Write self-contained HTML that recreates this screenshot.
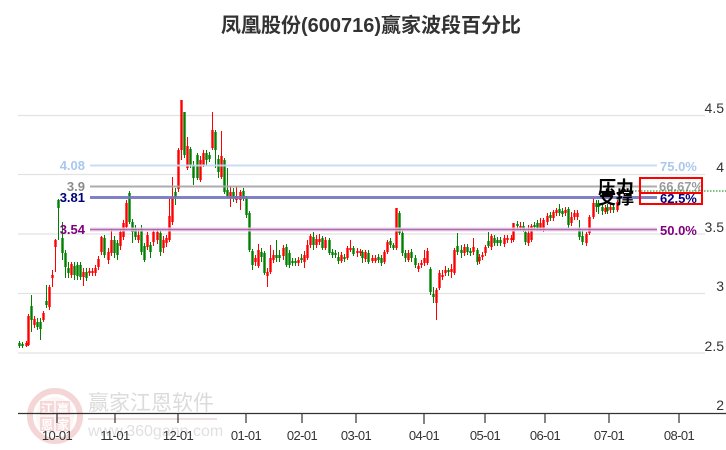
<!DOCTYPE html>
<html><head><meta charset="utf-8">
<style>
html,body{margin:0;padding:0;background:#fff;}
body{width:726px;height:450px;overflow:hidden;position:relative;font-family:"Liberation Sans","Noto Sans CJK SC",sans-serif;}
svg{position:absolute;left:0;top:0;}
</style></head><body>
<svg id="c" width="726" height="450" viewBox="0 0 726 450" xmlns="http://www.w3.org/2000/svg">
<!-- watermark -->
<g opacity="0.75">
  <circle cx="55" cy="416" r="25" fill="none" stroke="#f2c9c9" stroke-width="6"/>
  <circle cx="55" cy="416" r="19" fill="#fdf1f1" stroke="none"/>
  <rect x="40" y="401" width="14" height="14" fill="#f4caca"/>
  <rect x="56" y="401" width="14" height="14" fill="#f4caca"/>
  <rect x="40" y="417" width="14" height="14" fill="#f4caca"/>
  <rect x="56" y="417" width="14" height="14" fill="#f4caca"/>
  <g font-family="'Noto Sans CJK SC',sans-serif" font-size="12" font-weight="bold" fill="#fff" text-anchor="middle">
    <text x="47" y="413">江</text><text x="63" y="413">赢</text>
    <text x="47" y="429">恩</text><text x="63" y="429">家</text>
  </g>
  <text x="88" y="410" font-family="'Noto Sans CJK SC',sans-serif" font-size="21" fill="#cfcfcf">赢家江恩软件</text>
  <line x1="88" y1="419" x2="217" y2="419" stroke="#ecd2d2" stroke-width="2"/>
  <text x="88" y="436" font-family="'Liberation Sans',sans-serif" font-size="16" fill="#d6d6d6">www.360gann.com</text>
</g>

<!-- title -->
<text x="371" y="32" text-anchor="middle" font-size="20" font-weight="bold" fill="#333" font-family="'Liberation Sans','Noto Sans CJK SC',sans-serif">凤凰股份(600716)赢家波段百分比</text>

<!-- gridlines -->
<g stroke="#e2e2e2" stroke-width="1.2">
  <line x1="18" y1="115.5" x2="705" y2="115.5"/>
  <line x1="18" y1="174.5" x2="705" y2="174.5"/>
  <line x1="18" y1="234" x2="705" y2="234"/>
  <line x1="18" y1="293.5" x2="705" y2="293.5"/>
  <line x1="18" y1="353" x2="705" y2="353"/>
</g>

<!-- right axis labels -->
<g font-size="14" fill="#333" text-anchor="end" font-family="'Liberation Sans',sans-serif">
  <text x="724" y="113">4.5</text>
  <text x="724" y="172">4</text>
  <text x="724" y="232">3.5</text>
  <text x="724" y="291">3</text>
  <text x="724" y="351">2.5</text>
  <text x="724" y="410">2</text>
</g>

<!-- candles -->
<g id="k"></g>

<!-- level lines -->
<g opacity="0.9">
  <line x1="90" y1="165.5" x2="657" y2="165.5" stroke="#c4daf4" stroke-width="2"/>
  <line x1="90" y1="186.5" x2="657" y2="186.5" stroke="#a4a4a4" stroke-width="2"/>
  <line x1="90" y1="229.5" x2="657" y2="229.5" stroke="#ecd0ec" stroke-width="4"/>
  <line x1="90" y1="229.5" x2="657" y2="229.5" stroke="#a45ea4" stroke-width="1.6"/>
  <line x1="90" y1="197.5" x2="657" y2="197.5" stroke="#7474bf" stroke-width="3"/>
</g>

<!-- left level labels -->
<g font-size="13" font-weight="bold" text-anchor="end" font-family="'Liberation Sans',sans-serif">
  <text x="85" y="170" fill="#a9c8ee">4.08</text>
  <text x="85" y="191" fill="#8a8a8a">3.9</text>
  <text x="85" y="202" fill="#00007a">3.81</text>
  <text x="85" y="234" fill="#800080">3.54</text>
</g>

<!-- right level labels -->
<g font-size="13" font-weight="bold" font-family="'Liberation Sans',sans-serif">
  <text x="660" y="171" fill="#a9c8ee">75.0%</text>
  <text x="659" y="191" fill="#9a9a9a">66.67%</text>
  <text x="660" y="203" fill="#00007a">62.5%</text>
  <text x="660" y="235" fill="#800080">50.0%</text>
</g>

<!-- green dotted current line -->
<line x1="620" y1="191" x2="726" y2="191" stroke="#008000" stroke-width="1" stroke-dasharray="1.5,1.5"/>

<!-- red boxes -->
<rect x="640" y="178" width="62" height="15" fill="none" stroke="#f00" stroke-width="2"/>
<rect x="640" y="193" width="62" height="11" fill="none" stroke="#f00" stroke-width="2"/>

<!-- 压力 支撑 -->
<g font-family="'Noto Sans CJK SC',sans-serif" font-size="18" font-weight="bold" fill="#000">
  <text x="598" y="194">压力</text>
  <text x="598" y="204">支撑</text>
</g>

<!-- x axis -->
<line x1="18" y1="413.5" x2="726" y2="413.5" stroke="#333" stroke-width="1.3"/>
<g stroke="#333" stroke-width="1.2">
  <line x1="57" y1="413" x2="57" y2="423"/>
  <line x1="115" y1="413" x2="115" y2="423"/>
  <line x1="178" y1="413" x2="178" y2="423"/>
  <line x1="246" y1="413" x2="246" y2="423"/>
  <line x1="302" y1="413" x2="302" y2="423"/>
  <line x1="356" y1="413" x2="356" y2="423"/>
  <line x1="424" y1="413" x2="424" y2="424"/>
  <line x1="485" y1="413" x2="485" y2="423"/>
  <line x1="545" y1="413" x2="545" y2="423"/>
  <line x1="609" y1="413" x2="609" y2="423"/>
  <line x1="679" y1="413" x2="679" y2="423"/>
</g>
<g font-size="13" fill="#333" text-anchor="middle" letter-spacing="-0.6" font-family="'Liberation Sans',sans-serif">
  <text x="57" y="440">10-01</text>
  <text x="115" y="440">11-01</text>
  <text x="178" y="440">12-01</text>
  <text x="246" y="440">01-01</text>
  <text x="302" y="440">02-01</text>
  <text x="356" y="440">03-01</text>
  <text x="424" y="440">04-01</text>
  <text x="485" y="440">05-01</text>
  <text x="545" y="440">06-01</text>
  <text x="609" y="440">07-01</text>
  <text x="679" y="440">08-01</text>
</g>
</svg>
<script>
var d=[
[19,343,346,341,348,0],[22,344,346,342,348,0],[26,343,346,341,347,1],[28,316,345,314,346,1],
[31,306,320,295,332,0],[34,319,325,316,328,1],[37,322,327,318,330,0],[40,322,329,318,340,0],
[43,313,320,311,322,1],[46,301,305,285,308,0],[49,287,307,285,310,1],[52,275,278,270,287,1],
[55,240,247,239,272,1],[58,200,208,199,240,0],[62,238,253,222,260,0],[65,253,267,250,278,0],
[68,268,273,262,278,0],[71,264,275,262,278,1],[74,266,275,262,280,0],[77,265,276,262,280,0],
[80,265,277,262,280,0],[83,272,277,268,286,1],[86,272,278,268,281,0],[89,271,273,268,276,1],
[92,271,273,268,276,1],[95,268,273,265,276,1],[98,259,267,256,270,1],[101,237,252,236,255,1],
[104,238,255,235,258,0],[108,252,260,248,264,1],[111,240,253,229,256,1],[114,240,253,236,258,0],
[117,243,255,240,260,0],[120,232,246,229,250,1],[123,223,237,220,240,1],[126,203,227,200,229,1],
[129,193,222,191,224,0],[132,222,232,219,243,0],[135,228,237,225,240,0],[138,235,240,229,243,1],
[141,228,252,225,255,0],[144,246,260,243,262,0],[147,235,247,232,250,1],[150,245,252,242,258,0],
[153,232,242,229,246,1],[157,232,240,229,244,1],[160,233,252,230,256,0],[163,240,248,236,253,1],
[166,238,243,235,247,1],[169,216,240,198,242,1],[172,197,222,177,225,1],[175,192,197,188,205,0],
[178,150,189,148,192,1],[181,100,150,100,160,1],[184,112,155,112,158,0],[187,146,168,137,170,1],
[190,149,165,147,168,0],[193,165,178,161,185,0],[197,155,178,153,180,0],[200,160,180,156,182,1],
[203,153,165,150,167,1],[206,153,160,150,166,0],[209,155,159,152,162,0],[212,130,148,112,150,1],
[215,132,150,130,168,0],[218,159,172,155,178,0],[221,156,177,131,179,1],[224,160,192,158,194,0],
[227,190,196,168,198,0],[230,192,198,186,207,1],[233,192,198,188,202,0],[236,196,200,187,203,1],
[240,192,200,190,210,1],[243,191,198,188,201,0],[246,198,215,196,218,0],[249,213,250,211,252,0],
[252,251,265,249,270,0],[255,258,262,255,266,1],[258,250,266,244,268,1],[261,252,257,248,262,0],
[264,253,273,251,275,0],[267,272,276,268,287,1],[270,258,272,245,274,1],[273,255,260,250,263,1],
[276,255,258,240,262,0],[279,255,258,250,262,0],[283,248,256,245,260,1],[286,247,265,244,267,0],
[289,253,265,250,268,0],[292,261,263,258,266,0],[295,261,263,258,266,0],[298,260,263,257,266,1],
[301,258,260,254,263,0],[304,255,262,251,268,1],[307,245,258,240,260,1],
[310,236,245,234,248,1],[313,237,245,232,250,0],[316,239,245,235,248,1],[319,239,242,234,245,1],
[322,238,248,236,250,0],[325,240,248,237,250,1],[329,240,253,238,255,0],[332,252,255,249,258,0],
[335,253,255,250,258,0],[338,257,261,252,264,0],[341,255,261,252,263,1],[344,257,259,254,262,0],
[347,248,258,246,260,1],[350,248,250,240,252,1],[353,248,254,246,256,0],[357,251,253,248,257,1],
[360,251,253,249,256,1],[362,252,258,250,263,0],[365,252,259,250,262,1],[368,253,262,250,264,0],
[372,258,261,255,263,1],[375,258,261,255,263,1],[378,257,260,254,263,0],[381,258,263,255,266,0],
[384,252,262,250,264,1],[387,242,252,240,254,1],[390,241,245,238,248,0],[393,245,248,243,250,0],
[396,208,248,208,250,1],[399,213,233,211,235,0],[402,233,253,230,256,0],[405,253,258,250,262,0],
[408,253,260,250,262,1],[411,252,258,249,262,0],[415,258,265,255,268,0],[418,266,269,263,272,1],
[421,263,265,260,268,1],[424,258,263,250,266,1],[427,251,263,248,265,1],[430,269,292,267,295,0],
[433,294,297,287,303,0],[436,290,303,288,320,1],[439,273,288,270,290,1],
[442,275,277,270,280,1],[445,270,273,266,276,1],[448,270,272,268,276,0],[451,269,272,264,278,1],
[454,250,273,248,275,1],[457,246,252,233,255,0],[461,250,253,245,258,0],[464,247,253,244,256,1],
[467,247,252,244,255,0],[470,251,253,248,256,0],[473,247,252,238,255,1],[477,250,262,248,265,0],
[479,257,261,254,264,1],[482,255,257,252,260,1],[485,247,253,245,256,1],[488,241,246,232,248,0],
[491,236,247,234,250,1],[494,238,243,235,246,0],[497,240,243,237,246,0],[500,240,243,237,246,0],
[504,238,244,235,247,1],[507,238,240,235,243,1],[511,238,240,235,243,1],[513,223,240,223,242,1],
[517,224,226,221,230,0],[520,226,228,222,231,1],[523,226,230,222,232,0],[525,232,242,230,245,0],
[528,233,243,225,246,1],[531,226,240,224,242,1],[534,225,227,222,230,0],[537,223,228,220,231,0],
[540,223,228,218,231,1],[543,220,230,218,232,1],[547,216,222,213,225,1],[550,215,218,212,221,0],
[553,212,218,210,221,1],[556,210,213,208,216,1],[559,209,213,204,216,0],[562,211,214,208,217,0],
[565,210,213,207,216,1],[568,209,225,207,228,0],[571,217,223,212,226,1],[574,213,217,210,220,1],
[577,213,217,210,220,1],[579,228,237,220,240,0],[582,236,242,230,245,0],[586,234,243,232,246,1],
[589,217,233,215,235,1],[593,203,217,198,219,1],[596,203,207,200,212,0],[598,204,207,200,214,0],
[602,207,211,203,215,0],[605,208,212,205,214,1],[607,207,211,204,214,0],[610,207,210,204,213,1],
[613,207,210,204,213,0],[617,202,210,200,212,1]
];
var NS="http://www.w3.org/2000/svg",g=document.getElementById("k");
for(var i=0;i<d.length;i++){
  var c=d[i],x=c[0],col=c[5]?"#ff0000":"#008000";
  var l=document.createElementNS(NS,"line");
  l.setAttribute("x1",x+0.5);l.setAttribute("x2",x+0.5);
  l.setAttribute("y1",c[3]);l.setAttribute("y2",c[4]);
  l.setAttribute("stroke",col);l.setAttribute("stroke-width","1");
  g.appendChild(l);
  var r=document.createElementNS(NS,"rect");
  r.setAttribute("x",x-0.7);r.setAttribute("y",c[1]);
  r.setAttribute("width","2.4");r.setAttribute("height",Math.max(c[2]-c[1],1.2));
  r.setAttribute("fill",col);
  g.appendChild(r);
}
</script>
</body></html>
